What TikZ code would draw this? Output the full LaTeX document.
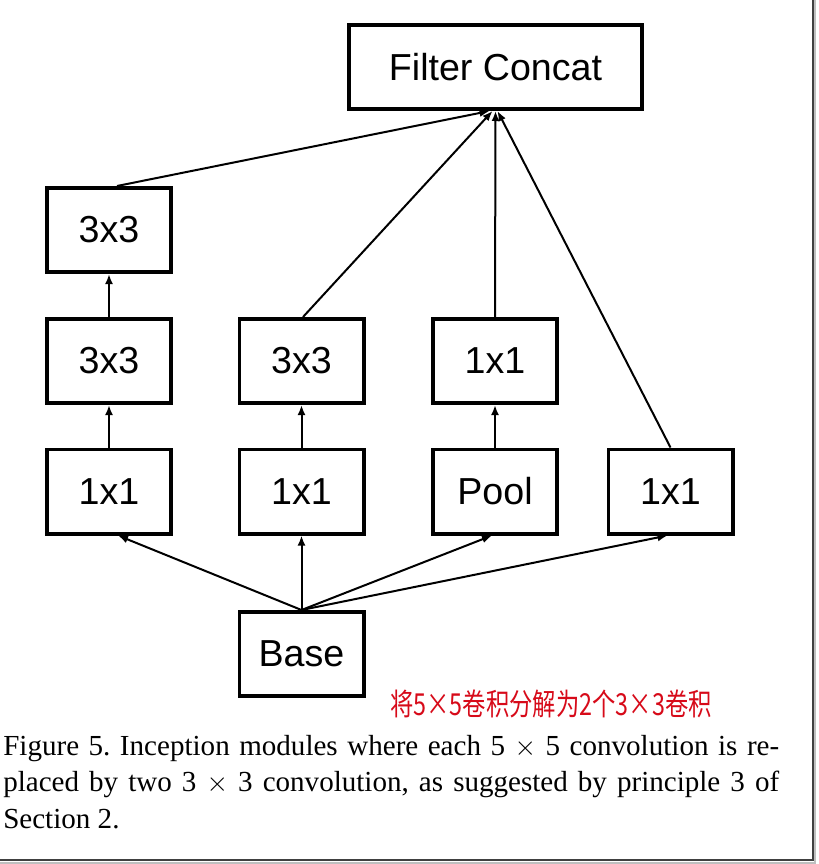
\documentclass[tikz,border=0pt]{standalone}
\usepackage{fontspec}
\setmainfont{Liberation Serif}
\newfontfamily\arialfont{Liberation Sans}
\newfontfamily\cjk{Noto Sans CJK SC}
\usetikzlibrary{arrows.meta,calc}
\definecolor{handred}{RGB}{215,10,25}
\begin{document}
\begin{tikzpicture}[x=0.75pt,y=-0.75pt,
  box/.style={draw=black,line width=2.8pt,fill=white,minimum width=93.2pt,minimum height=63.2pt,inner sep=0pt,font=\arialfont\fontsize{28.2pt}{30pt}\selectfont},
  conn/.style={line width=1.5pt,-{Latex[length=7.5pt,width=6pt]}}]
\useasboundingbox (0,0) rectangle (818,864);
\fill[white] (0,0) rectangle (818,864);
% frame
\draw[black!25,line width=1.2pt] (815,0) -- (815,863) -- (0,863);
\draw[black!75,line width=1.5pt] (812.5,0) -- (812.5,860) -- (0,860);
% nodes
\node[box,minimum width=220pt] (fc) at (495.5,67) {Filter Concat};
\node[box] (a3) at (109,230) {3x3};
\node[box] (a2) at (109,361) {3x3};
\node[box] (a1) at (109,491.5) {1x1};
\node[box] (b2) at (301.5,361) {3x3};
\node[box] (b1) at (301.5,491.5) {1x1};
\node[box] (c2) at (495,361) {1x1};
\node[box] (c1) at (495,491.5) {Pool};
\node[box] (d1) at (670.5,491.5) {1x1};
\node[box] (base) at (301.5,654) {Base};
% connectors to concat
\draw[conn] ($(a3.north)+(8,0)$) -- ($(fc.south)+(-6,0)$);
\draw[conn] ($(b2.north)+(1.5,0)$) -- ($(fc.south)+(-3,0)$);
\draw[conn] (c2.north) -- ($(fc.south)+(0,0)$);
\draw[conn] (d1.north) -- ($(fc.south)+(2,0)$);
% vertical
\draw[conn] (a2.north) -- (a3.south);
\draw[conn] (a1.north) -- (a2.south);
\draw[conn] (b1.north) -- (b2.south);
\draw[conn] (c1.north) -- (c2.south);
% from base
\draw[conn] (base.north) -- ($(a1.south)+(9,0)$);
\draw[conn] (base.north) -- (b1.south);
\draw[conn] (base.north) -- ($(c1.south)+(-3,0)$);
\draw[conn] (base.north) -- ($(d1.south)+(-3,0)$);
% handwritten note
\node[text=handred,font=\cjk\fontsize{17.5pt}{20pt}\selectfont,inner sep=0pt] (note) at (551,704) {\scalebox{1}[1.3]{将5×5卷积分解为2个3×3卷积}};
% caption
\node[anchor=north west,inner sep=0pt,text width=582pt,align=justify,font=\fontsize{21.8pt}{27.4pt}\selectfont] (cap) at (3,735)
{\frenchspacing Figure 5. Inception modules where each 5 $\times$ 5 convolution is re-\linebreak placed by two 3 $\times$ 3 convolution, as suggested by principle 3 of\linebreak Section 2.};
\end{tikzpicture}
\end{document}
